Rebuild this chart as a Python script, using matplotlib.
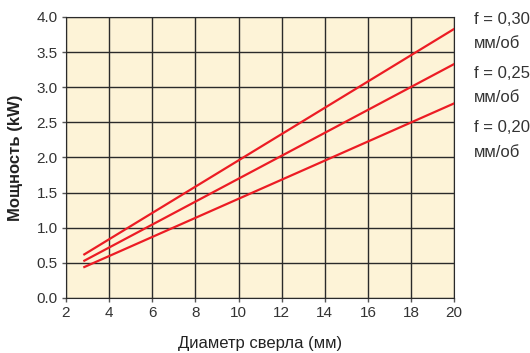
import matplotlib.pyplot as plt

diameter = [2.85, 20]
power_030 = [0.62, 3.83]
power_025 = [0.53, 3.33]
power_020 = [0.44, 2.77]
feed_labels = ["f = 0,30", "f = 0,25", "f = 0,20"]
unit_label = "мм/об"
label_px = [19, 74, 128]

plt.rcParams['font.family'] = ['Liberation Sans Narrow', 'Liberation Sans', 'DejaVu Sans']

fig = plt.figure(figsize=(5.30, 3.53), dpi=100)
ax = fig.add_axes([0.1245, 0.156, 0.7325, 0.796])
ax.set_facecolor('#fdf3d7')

for p in [power_030, power_025, power_020]:
    ax.plot(diameter, p, color='#ec1c24', lw=1.6, zorder=3)

ax.set_xlim(2, 20)
ax.set_ylim(0, 4)
ax.set_xticks(range(2, 21, 2))
ax.set_yticks([i * 0.5 for i in range(9)])
ax.set_yticklabels([f"{i * 0.5:.1f}" for i in range(9)])
ax.grid(True, color='#2a2a2a', lw=1)
for s in ax.spines.values():
    s.set_color('#2a2a2a')
ax.tick_params(direction='out', length=3, width=1, color='#555555', labelsize=11, labelcolor='#333333', pad=3)

ax.set_xlabel("Диаметр сверла (мм)", fontsize=12, color='#222222', labelpad=11)
ax.set_ylabel("Мощность (kW)", fontsize=12, fontweight='bold', color='#222222', labelpad=10)

# feed labels to the right of the plot
for txt, py in zip(feed_labels, label_px):
    fig.text(0.895, 1 - py / 353, txt, fontsize=12, color='#333333', va='center')
    fig.text(0.895, 1 - (py + 24) / 353, unit_label, fontsize=12, color='#333333', va='center')

fig.savefig('out.png')
